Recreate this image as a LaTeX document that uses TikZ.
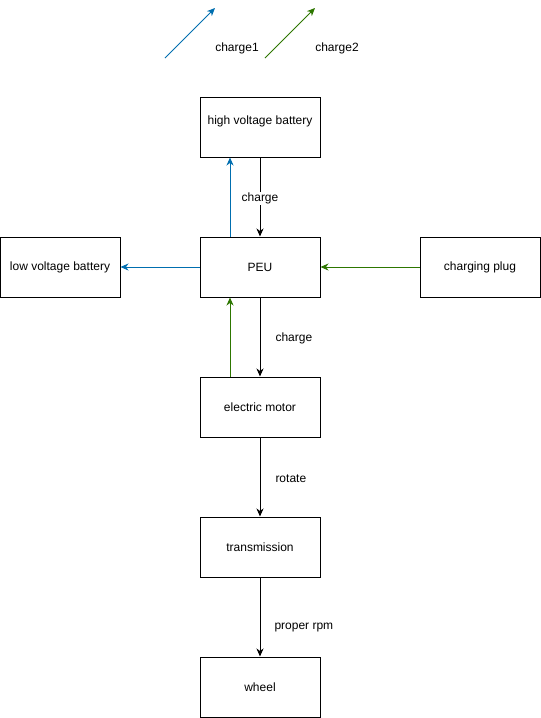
\documentclass[tikz,border=0pt]{standalone}
\usepackage{fontspec}
\setmainfont{Liberation Sans}
\usetikzlibrary{arrows.meta}
\definecolor{dblue}{HTML}{006EAF}
\definecolor{dgreen}{HTML}{2D7600}
\begin{document}
\begin{tikzpicture}[x=1pt,y=-1pt,
  box/.style={draw,line width=1pt,minimum width=120pt,minimum height=60pt,inner sep=0pt,font=\fontsize{12}{14}\selectfont},
  conn/.style={line width=1pt,-{Stealth[length=8pt,width=7pt,inset=2.5pt]}},
  lbl/.style={font=\fontsize{12}{14}\selectfont,inner sep=1pt}]
\useasboundingbox (0,0) rectangle (541,718);
\node[box] (hvb) at (260,127) {};
\node[lbl] (hvbt) at (260,121) {high voltage battery};
\node[box] (peu) at (260,267) {PEU};
\node[box] (lvb) at (60,267) {low voltage battery};
\node[box] (plug) at (480,267) {charging plug};
\node[box] (motor) at (260,407) {electric motor};
\node[box] (trans) at (260,547) {transmission};
\node[box] (wheel) at (260,687) {wheel};
% legend
\coordinate (l1a) at (165,58);
\coordinate (l1b) at (215,8);
\coordinate (l2a) at (265,58);
\coordinate (l2b) at (315,8);
\draw[conn,dblue] (l1a) -- (l1b);
\draw[conn,dgreen] (l2a) -- (l2b);
\node[lbl] (c1) at (237,48) {charge1};
\node[lbl] (c2) at (337,48) {charge2};
% connectors
\draw[conn] (hvb.south) -- node[lbl,fill=white,pos=0.52] {charge} (peu.north);
\draw[conn,dblue] ([xshift=-30pt]peu.north) -- ([xshift=-30pt]hvb.south);
\draw[conn,dblue] (peu.west) -- (lvb.east);
\draw[conn,dgreen] (plug.west) -- (peu.east);
\draw[conn] (peu.south) -- node[lbl,right=14pt,pos=0.52] {charge} (motor.north);
\draw[conn,dgreen] ([xshift=-30pt]motor.north) -- ([xshift=-30pt]peu.south);
\draw[conn] (motor.south) -- node[lbl,right=14pt,pos=0.52] {rotate} (trans.north);
\draw[conn] (trans.south) -- node[lbl,right=13pt,pos=0.635] {proper rpm} (wheel.north);
\end{tikzpicture}
\end{document}
